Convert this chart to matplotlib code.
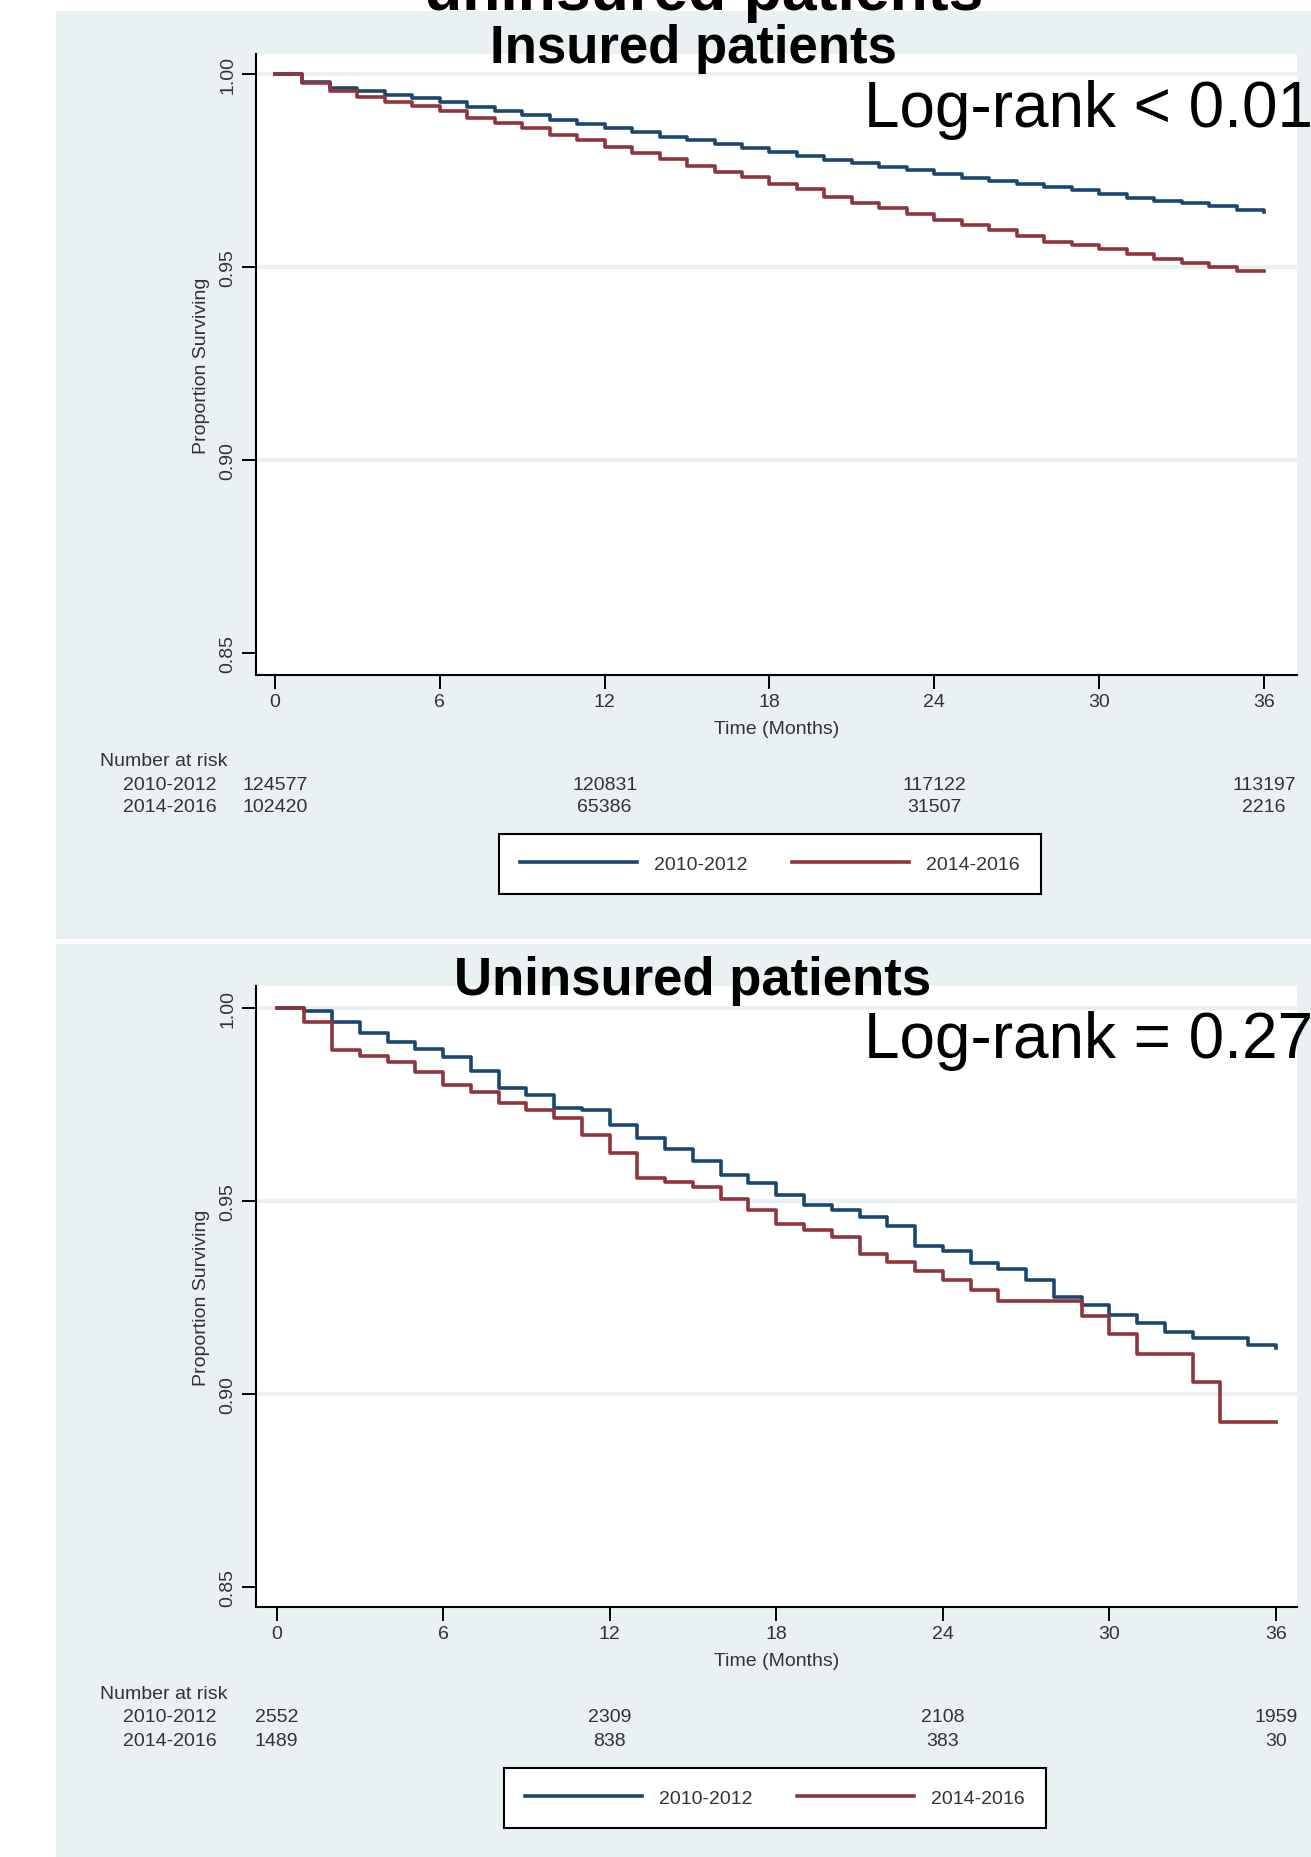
import matplotlib
matplotlib.use("Agg")
import matplotlib.pyplot as plt
from matplotlib.patches import Rectangle
from matplotlib.transforms import blended_transform_factory

plt.rcParams['font.family'] = ['Liberation Sans', 'DejaVu Sans']

# --- data (monthly Kaplan-Meier steps, last value = drop at 36) ---
months = list(range(0, 37))

ins_2010 = [1.0000, 0.9980, 0.9965, 0.9957, 0.9946, 0.9938, 0.9927, 0.9915, 0.9905, 0.9895,
            0.9881, 0.9870, 0.9859, 0.9849, 0.9838, 0.9828, 0.9819, 0.9808, 0.9799, 0.9789,
            0.9778, 0.9770, 0.9760, 0.9752, 0.9741, 0.9731, 0.9722, 0.9716, 0.9708, 0.9700,
            0.9690, 0.9680, 0.9672, 0.9666, 0.9658, 0.9649, 0.9642]
ins_2014 = [1.0000, 0.9976, 0.9957, 0.9940, 0.9928, 0.9916, 0.9905, 0.9886, 0.9872, 0.9860,
            0.9842, 0.9830, 0.9812, 0.9796, 0.9780, 0.9763, 0.9747, 0.9733, 0.9714, 0.9701,
            0.9682, 0.9666, 0.9653, 0.9638, 0.9623, 0.9610, 0.9597, 0.9580, 0.9566, 0.9556,
            0.9547, 0.9533, 0.9522, 0.9510, 0.9500, 0.9490, 0.9489]
unins_2010 = [1.0000, 0.9992, 0.9962, 0.9934, 0.9910, 0.9893, 0.9873, 0.9836, 0.9791, 0.9773,
              0.9740, 0.9734, 0.9696, 0.9663, 0.9633, 0.9603, 0.9567, 0.9547, 0.9515, 0.9489,
              0.9477, 0.9459, 0.9434, 0.9384, 0.9369, 0.9339, 0.9324, 0.9295, 0.9250, 0.9230,
              0.9204, 0.9184, 0.9161, 0.9144, 0.9144, 0.9127, 0.9118]
unins_2014 = [1.0000, 0.9962, 0.9890, 0.9875, 0.9858, 0.9834, 0.9799, 0.9782, 0.9753, 0.9734,
              0.9713, 0.9669, 0.9623, 0.9560, 0.9548, 0.9535, 0.9505, 0.9475, 0.9441, 0.9423,
              0.9405, 0.9363, 0.9341, 0.9319, 0.9294, 0.9269, 0.9241, 0.9241, 0.9241, 0.9202,
              0.9155, 0.9103, 0.9103, 0.9030, 0.8927, 0.8927, 0.8927]

risk_times = [0, 12, 24, 36]
ins_risk_2010 = ["124577", "120831", "117122", "113197"]
ins_risk_2014 = ["102420", "65386", "31507", "2216"]
unins_risk_2010 = ["2552", "2309", "2108", "1959"]
unins_risk_2014 = ["1489", "838", "383", "30"]

groups = ["2010-2012", "2014-2016"]
colors = ["#1a476f", "#90353b"]
bg = "#e9f1f3"
txt = "#333333"
fs = 14

W, H = 1311, 1858
fig = plt.figure(figsize=(W / 100, H / 100), dpi=100)


def fx(px):
    return px / W


def fy(py):
    return 1 - py / H


# panel backgrounds (behind the axes)
fig.patches.append(Rectangle((fx(56), fy(940)), 1, (940 - 12) / H, transform=fig.transFigure,
                             facecolor=bg, edgecolor="none", zorder=-10))
fig.patches.append(Rectangle((fx(56), 0), 1, (H - 945) / H, transform=fig.transFigure,
                             facecolor=bg, edgecolor="none", zorder=-10))


def panel(top, bottom, xlim, ylim, s2010, s2014, risk10, risk14, title, title_base,
          logrank, lr_base, risk_y, leg_xy):
    ax = fig.add_axes([fx(256), fy(bottom), fx(1297 - 256), (bottom - top) / H])
    ax.set_facecolor("white")
    for y in [0.90, 0.95, 1.00]:
        ax.axhline(y, color=bg, lw=3, zorder=1)
    l1, = ax.step(months, s2010, where="post", color=colors[0], lw=2.6, zorder=3)
    l2, = ax.step(months, s2014, where="post", color=colors[1], lw=2.6, zorder=4)
    ax.set_xlim(*xlim)
    ax.set_ylim(*ylim)
    ax.set_xticks(range(0, 37, 6))
    ax.set_yticks([0.85, 0.90, 0.95, 1.00])
    ax.set_yticklabels(["0.85", "0.90", "0.95", "1.00"], rotation=90, va="center")
    ax.tick_params(axis="both", length=10, width=1.4, labelsize=fs, labelcolor=txt)
    ax.tick_params(axis="x", pad=3)
    ax.tick_params(axis="y", pad=4)
    for s in ["top", "right"]:
        ax.spines[s].set_visible(False)
    for s in ["left", "bottom"]:
        ax.spines[s].set_linewidth(1.5)
    ax.set_ylabel("Proportion Surviving", fontsize=fs, color=txt, labelpad=7)
    ax.set_xlabel("Time (Months)", fontsize=fs, color=txt, labelpad=7)

    fig.text(fx(693), fy(title_base), title, ha="center", va="baseline",
             fontsize=38, fontweight="bold", color="black")
    fig.text(fx(864), fy(lr_base), logrank, ha="left", va="baseline",
             fontsize=46, color="black")

    # number at risk table
    tr = blended_transform_factory(ax.transData, fig.transFigure)
    fig.text(fx(100), fy(risk_y[0]), "Number at risk", ha="left", va="center",
             fontsize=fs, color=txt)
    for g, row, yy in zip(groups, [risk10, risk14], risk_y[1:]):
        fig.text(fx(217), fy(yy), g, ha="right", va="center", fontsize=fs, color=txt)
        for t, n in zip(risk_times, row):
            ax.text(t, fy(yy), n, transform=tr, ha="center", va="center",
                    fontsize=fs, color=txt, clip_on=False)

    leg = fig.legend([l1, l2], groups, loc="center", bbox_to_anchor=leg_xy, ncol=2,
                     frameon=True, fancybox=False, edgecolor="black", framealpha=1,
                     handlelength=6.0, handletextpad=0.9, columnspacing=2.3,
                     borderpad=1.1, fontsize=fs)
    leg.get_frame().set_linewidth(1.5)
    for t in leg.get_texts():
        t.set_color(txt)
    return ax


# overall title at the very top, cut off by the edge as in the original
fig.text(fx(704), fy(10), "uninsured patients", ha="center", va="baseline",
         fontsize=45, fontweight="bold", color="black")

panel(55, 676, (-0.69, 37.2), (0.8443, 1.0052), ins_2010, ins_2014,
      ins_risk_2010, ins_risk_2014, "Insured patients", 63, "Log-rank < 0.01", 127,
      [762, 785, 808], (fx(770), fy(865)))

panel(987, 1608, (-0.74, 36.76), (0.8448, 1.0056), unins_2010, unins_2014,
      unins_risk_2010, unins_risk_2014, "Uninsured patients", 995, "Log-rank = 0.27", 1058,
      [1695, 1718, 1742], (fx(775), fy(1799)))

fig.savefig("out.png", dpi=100)
